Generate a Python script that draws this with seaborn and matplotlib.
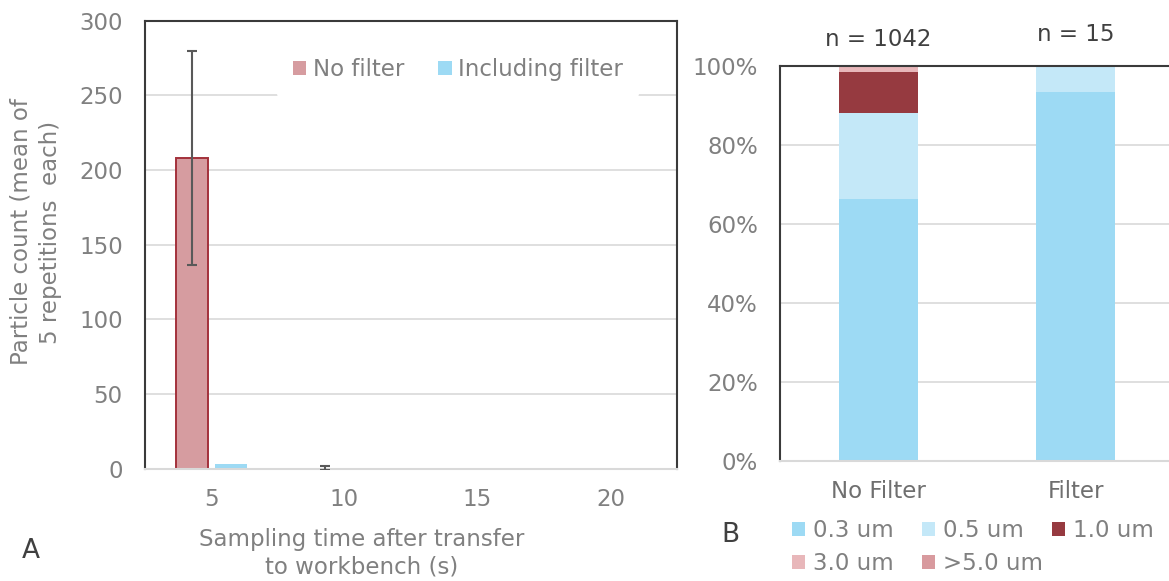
import numpy as np
import pandas as pd
import matplotlib
matplotlib.use("Agg")
import matplotlib.pyplot as plt
from matplotlib.patches import Patch
import seaborn as sns

# ---- Panel A: particle counts after transfer to the workbench ----
sampling_times = ["5", "10", "15", "20"]
setups = ["No filter", "Including filter"]
mean_no_filter = [208, 0.4, 0, 0]
sd_no_filter = [72, 1.3, 0, 0]
mean_with_filter = [3, 0, 0, 0]

# ---- Panel B: particle size distribution ----
conditions = ["No Filter", "Filter"]
size_classes = ["0.3 um", "0.5 um", "1.0 um", "3.0 um", ">5.0 um"]
counts_no_filter = [692, 225, 110, 12, 3]
counts_filter = [14, 1, 0, 0, 0]

# colours
RED_FILL = "#d69ca0"
RED_EDGE = "#a3313b"
BLUE = "#9ddaf4"
size_colors = ["#9ddaf4", "#c4e8f8", "#963a40", "#e8b7ba", "#d89a9e"]
TXT = "#808080"
DARK = "#404040"
GRID = "#d9d9d9"

sns.set_theme(style="white")
plt.rcParams["font.family"] = ["DejaVu Sans"]
FS = 16.5

W, H = 1169, 581
fig = plt.figure(figsize=(W / 100, H / 100), dpi=100)


def px_axes(l, t, r, b):
    return fig.add_axes([l / W, 1 - b / H, (r - l) / W, (b - t) / H])


# ---------------- Panel A ----------------
ax1 = px_axes(145, 20.7, 677, 468.5)
df_a = pd.DataFrame({
    "time": sampling_times * 2,
    "setup": [setups[0]] * 4 + [setups[1]] * 4,
    "count": mean_no_filter + mean_with_filter,
})
sns.barplot(data=df_a, x="time", y="count", hue="setup", order=sampling_times,
            hue_order=setups, palette=[RED_FILL, BLUE], saturation=1,
            width=0.59, gap=0.2, errorbar=None, legend=False, ax=ax1)

# outline only the visible "No filter" bars
for bar in ax1.containers[0]:
    if bar.get_height() >= 1:
        bar.set_edgecolor(RED_EDGE)
        bar.set_linewidth(1.4)
    else:
        bar.set_linewidth(0)
for bar in ax1.containers[1]:
    bar.set_linewidth(0)

# standard-deviation whiskers centred on the "No filter" bars
for bar, m, s in zip(ax1.containers[0], mean_no_filter, sd_no_filter):
    if s > 0:
        ax1.errorbar(bar.get_x() + bar.get_width() / 2, bar.get_height(), yerr=s,
                     fmt="none", ecolor="#595959", elinewidth=1.5, capsize=3.6,
                     capthick=1.5, zorder=5)

ax1.set_ylim(0, 300)
ax1.set_yticks(np.arange(0, 301, 50))
ax1.set_xlim(-0.5, 3.5)
ax1.yaxis.grid(True, color=GRID, lw=1.2)
ax1.set_axisbelow(True)
for side in ["left", "top", "right"]:
    ax1.spines[side].set_color("#3a3a3a")
    ax1.spines[side].set_linewidth(1.5)
ax1.spines["bottom"].set_color(GRID)
ax1.spines["bottom"].set_linewidth(1.5)
ax1.tick_params(axis="y", length=0, pad=16, labelsize=FS, labelcolor=TXT)
ax1.tick_params(axis="x", length=0, pad=14, labelsize=FS, labelcolor=TXT)
ax1.set_xlabel("")
ax1.set_ylabel("")

fig.text(362 / W, 1 - 553 / H, "Sampling time after transfer\nto workbench (s)",
         ha="center", va="center", fontsize=FS, color=TXT, linespacing=1.25)
fig.text(36 / W, 1 - 232 / H, "Particle count (mean of\n5 repetitions  each)",
         ha="center", va="center", rotation=90, fontsize=FS, color=TXT,
         linespacing=1.35)

leg1 = ax1.legend(handles=[Patch(facecolor=RED_FILL, lw=0), Patch(facecolor=BLUE, lw=0)],
                  labels=setups, ncol=2, loc="center",
                  bbox_to_anchor=(458 / W, 1 - 70 / H), bbox_transform=fig.transFigure,
                  frameon=True, facecolor="white", edgecolor="none", framealpha=1,
                  fontsize=FS, labelcolor=TXT, handlelength=0.57, handleheight=0.55,
                  handletextpad=0.3, columnspacing=1.5, borderpad=0.7)
leg1.get_frame().set_linewidth(0)

fig.text(31 / W, 1 - 551 / H, "A", ha="center", va="center", fontsize=19, color=DARK)

# ---------------- Panel B ----------------
ax2 = px_axes(780, 66, 1174.5, 461)
pct_no = 100 * np.array(counts_no_filter) / sum(counts_no_filter)
pct_f = 100 * np.array(counts_filter) / sum(counts_filter)
cum = np.vstack([np.cumsum(pct_no), np.cumsum(pct_f)])  # rows: condition

# stacked bars: draw the tallest cumulative layer first
for k in range(len(size_classes) - 1, -1, -1):
    sns.barplot(x=conditions, y=cum[:, k], color=size_colors[k], saturation=1,
                width=0.4, linewidth=0, errorbar=None, ax=ax2)

ax2.set_ylim(0, 100)
ax2.set_xlim(-0.5, 1.5)
ax2.set_yticks(np.arange(0, 101, 20))
ax2.set_yticklabels([f"{v}%" for v in range(0, 101, 20)])
ax2.yaxis.grid(True, color=GRID, lw=1.2)
ax2.set_axisbelow(True)
for side in ["left", "top"]:
    ax2.spines[side].set_color("#3a3a3a")
    ax2.spines[side].set_linewidth(1.5)
ax2.spines["right"].set_visible(False)
ax2.spines["bottom"].set_color(GRID)
ax2.spines["bottom"].set_linewidth(1.5)
ax2.tick_params(axis="y", length=0, pad=16, labelsize=FS, labelcolor=TXT)
ax2.tick_params(axis="x", length=0, pad=14, labelsize=FS, labelcolor="#6f6f6f")

n_totals = [sum(counts_no_filter), sum(counts_filter)]
n_heights = [106.6, 108.0]
for i, (n, h) in enumerate(zip(n_totals, n_heights)):
    ax2.text(i, h, f"n = {n}", ha="center", va="center", fontsize=FS,
             color=DARK, clip_on=False)

# legend laid out in rows of three
size_handles = [Patch(facecolor=c, lw=0) for c in size_colors]
columns = [[0, 3], [1, 4], [2]]
col_x = [791.5, 921.5, 1051.5]
for idx, x in zip(columns, col_x):
    fig.legend(handles=[size_handles[i] for i in idx],
               labels=[size_classes[i] for i in idx], loc="upper left",
               bbox_to_anchor=(x / W, 1 - 519 / H), frameon=False, fontsize=FS,
               labelcolor=TXT, handlelength=0.57, handleheight=0.55,
               handletextpad=0.35, labelspacing=0.45, borderpad=0, borderaxespad=0)

fig.text(730 / W, 1 - 535 / H, "B", ha="center", va="center", fontsize=19, color=DARK)

fig.savefig("out.png", dpi=100)
